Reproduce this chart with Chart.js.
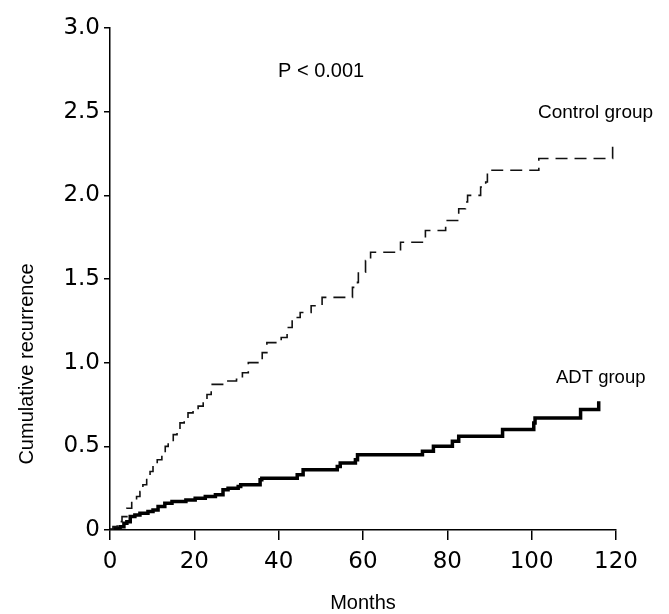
<!DOCTYPE html>
<html>
<head>
<meta charset="utf-8">
<script src="https://cdn.jsdelivr.net/npm/chart.js@4.4.0/dist/chart.umd.min.js"></script>
<style>
  html, body { margin: 0; padding: 0; background: #fff; }
  #grafico { display: block; }
</style>
</head>
<body>
<canvas id="grafico" width="669" height="614"></canvas>
<script>
// Dados (meses, recorrência cumulativa)
const mesesControle = [0, 0.7, 1.7, 2.85, 4.0, 5.15, 6.3, 7.1, 7.8, 8.7, 9.5, 10.2, 11.2, 12.3, 13.1, 13.8, 15.0, 15.9, 16.6, 17.6, 18.5, 19.7, 20.9, 22.1, 23.0, 24.0, 27.3, 30.0, 31.4, 32.8, 36.1, 37.2, 40.6, 42.0, 43.2, 45.1, 47.7, 50.3, 57.5, 58.7, 58.9, 60.6, 61.8, 68.9, 74.8, 79.6, 82.7, 84.3, 84.8, 87.9, 89.1, 89.5, 101.7, 119.2];
const valoresControle = [0, 0.02, 0.05, 0.08, 0.13, 0.17, 0.20, 0.23, 0.27, 0.31, 0.35, 0.39, 0.42, 0.45, 0.50, 0.52, 0.57, 0.60, 0.64, 0.66, 0.70, 0.72, 0.74, 0.78, 0.81, 0.87, 0.89, 0.90, 0.94, 1.00, 1.06, 1.12, 1.15, 1.21, 1.27, 1.30, 1.34, 1.39, 1.45, 1.48, 1.54, 1.61, 1.66, 1.72, 1.79, 1.85, 1.92, 1.96, 2.00, 2.05, 2.08, 2.15, 2.22, 2.33];

const mesesADT = [0, 1.2, 2.4, 3.3, 4.0, 4.8, 5.9, 7.1, 9.0, 10.2, 11.4, 13.0, 14.7, 18.0, 20.2, 22.6, 25.0, 26.8, 28.0, 30.4, 31.0, 35.6, 36.0, 44.4, 45.8, 53.9, 54.6, 58.2, 58.7, 74.1, 76.7, 81.2, 82.7, 93.1, 100.5, 100.8, 111.6, 115.9];
const valoresADT = [0, 0.01, 0.02, 0.04, 0.05, 0.08, 0.09, 0.10, 0.11, 0.12, 0.14, 0.16, 0.17, 0.18, 0.19, 0.20, 0.21, 0.24, 0.25, 0.26, 0.27, 0.30, 0.31, 0.33, 0.36, 0.38, 0.40, 0.42, 0.45, 0.47, 0.50, 0.53, 0.56, 0.60, 0.64, 0.67, 0.72, 0.77];

const ticksX = [0, 20, 40, 60, 80, 100, 120];
const ticksY = [0, 0.5, 1.0, 1.5, 2.0, 2.5, 3.0];

const nomeControle = "Control group";
const nomeADT = "ADT group";
const textoP = "P < 0.001";
const tituloX = "Months";
const tituloY = "Cumulative recurrence";

// Montando os pontos a partir dos arrays
const pontosControle = mesesControle.map((m, i) => ({ x: m, y: valoresControle[i] }));
const pontosADT = mesesADT.map((m, i) => ({ x: m, y: valoresADT[i] }));

// Plugin para os textos soltos (anotações e títulos dos eixos)
const textosPlugin = {
    id: "textos",
    afterDraw(chart) {
        const ctx = chart.ctx;
        ctx.save();
        ctx.fillStyle = "#000";
        ctx.textAlign = "left";
        ctx.textBaseline = "middle";
        ctx.font = "20px 'Liberation Sans', Arial, sans-serif";
        ctx.fillText(textoP, 278, 71);
        ctx.font = "19px 'Liberation Sans', Arial, sans-serif";
        ctx.fillText(nomeControle, 538, 113);
        ctx.font = "18.5px 'Liberation Sans', Arial, sans-serif";
        ctx.fillText(nomeADT, 556, 378);

        ctx.textAlign = "center";
        ctx.font = "20px 'Liberation Sans', Arial, sans-serif";
        ctx.fillText(tituloX, 363, 603);

        ctx.translate(27, 364);
        ctx.rotate(-Math.PI / 2);
        ctx.fillText(tituloY, 0, 0);
        ctx.restore();
    }
};

const config = {
    type: "line",
    data: {
        datasets: [{
            label: nomeControle,
            data: pontosControle,
            stepped: "before",
            borderColor: "#111",
            borderWidth: 1.6,
            borderDash: [12, 7],
            pointRadius: 0,
            fill: false,
        }, {
            label: nomeADT,
            data: pontosADT,
            stepped: "before",
            borderColor: "#000",
            borderWidth: 3.5,
            pointRadius: 0,
            fill: false,
        }]
    },
    options: {
        responsive: false,
        animation: false,
        layout: {
            padding: { left: 0, top: 28, right: 53, bottom: 0 }
        },
        plugins: {
            legend: { display: false },
            tooltip: { enabled: false }
        },
        scales: {
            x: {
                type: "linear",
                min: 0,
                max: 120,
                afterBuildTicks: (scale) => { scale.ticks = ticksX.map(v => ({ value: v })); },
                afterFit: (scale) => { scale.height = 84; },
                grid: {
                    drawOnChartArea: false,
                    drawTicks: true,
                    tickLength: 10,
                    color: "#000",
                    lineWidth: 1.5
                },
                border: { display: true, color: "#000", width: 1.5 },
                ticks: {
                    color: "#000",
                    padding: 8,
                    maxRotation: 0,
                    font: { family: "'DejaVu Sans', sans-serif", size: 23 }
                }
            },
            y: {
                min: 0,
                max: 3,
                afterBuildTicks: (scale) => { scale.ticks = ticksY.map(v => ({ value: v })); },
                afterFit: (scale) => { scale.width = 110; },
                grid: {
                    drawOnChartArea: false,
                    drawTicks: true,
                    tickLength: 6,
                    color: "#000",
                    lineWidth: 1.5
                },
                border: { display: true, color: "#000", width: 1.5 },
                ticks: {
                    color: "#000",
                    padding: 4,
                    font: { family: "'DejaVu Sans', sans-serif", size: 23 },
                    callback: (v) => v === 0 ? "0" : v.toFixed(1)
                }
            }
        }
    },
    plugins: [textosPlugin]
};

let grafico = new Chart(document.getElementById("grafico"), config);
</script>
</body>
</html>
